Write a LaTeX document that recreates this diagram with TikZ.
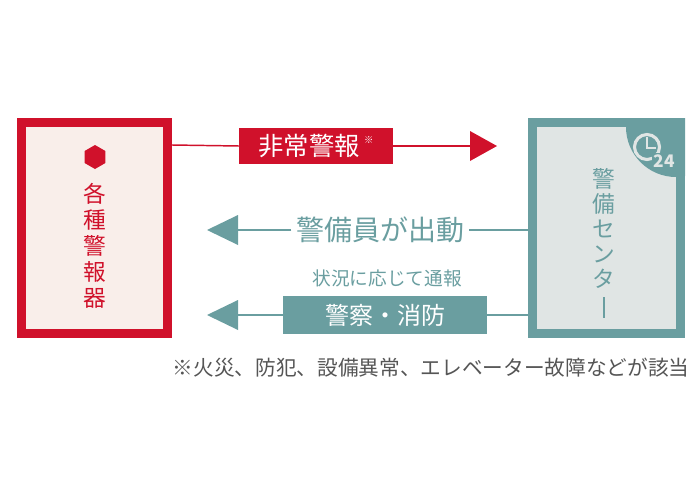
\documentclass[tikz,border=0pt]{standalone}
\usepackage{fontspec}
\setmainfont{Noto Sans CJK JP}
\usetikzlibrary
  {
    positioning, % place nodes relative to other nodes
    calc,
    shapes.geometric,
  }
\definecolor{alarmred}{HTML}{D0112B}
\definecolor{alarmbg}{HTML}{F9EEEA}
\definecolor{guardteal}{HTML}{6A9EA0}
\definecolor{guardbg}{HTML}{E0E5E4}
\definecolor{notegray}{HTML}{555555}
\tikzset{
  px/.style={x=0.75pt,y=-0.75pt},
  head/.style={fill=#1,draw=none},
  tag/.style={fill=#1,text=white,inner sep=0pt,font=\fontsize{18}{18}\selectfont},
}
\begin{document}
\begin{tikzpicture}[px]
  \useasboundingbox (0,0) rectangle (700,500);

  % boxes
  \draw[alarmred,line width=6.75pt,fill=alarmbg] (21.5,122.5) rectangle (167.5,333.5);
  \begin{scope}
    \clip (528,118) rectangle (685,338);
    \fill[guardteal] (528,118) rectangle (685,338);
    \fill[guardbg] (537,127) rectangle (676,329);
    \fill[guardteal] (676,127) circle (50);
  \end{scope}
  \coordinate (alarmR) at (172,145);
  \coordinate (guardL) at (528,230);

  % alarm side text
  \node[regular polygon,regular polygon sides=6,shape border rotate=30,fill=alarmred,minimum size=18pt,inner sep=0pt] (hex) at (95,157) {};
  \foreach \c [count=\i] in {各,種,警,報,器}
    \node[text=alarmred,font=\fontsize{17}{17}\selectfont] (a\i) at (95,168+26*\i) {\c};

  % center side text
  \foreach \c [count=\i] in {警,備,セ,ン,タ}
    \node[text=guardteal,font=\fontsize{17}{17}\selectfont] (g\i) at (604,154+25*\i) {\c};
  \draw[guardteal,line width=1.2pt] (604,297) -- (604,318);

  % clock icon
  \draw[guardbg,line width=2.3pt] (647,147) circle (12.5);
  \draw[guardbg,line width=2pt] (647,137) -- (647,148) -- (656,148);
  \node[text=guardbg,font=\bfseries\fontsize{13}{13}\selectfont,fill=guardteal,inner sep=1pt] (clk) at (664,161) {24};

  % alarm arrow
  \node[tag=alarmred,minimum width=115pt,minimum height=27pt,font=\fontsize{19}{19}\selectfont] (fire) at (316,146) {非常警報\,\raisebox{0.9ex}{\fontsize{7}{7}\selectfont ※}};
  \coordinate (t1) at (497,146);
  \draw[alarmred,line width=1.1pt] (alarmR) -- (fire.west);
  \draw[alarmred,line width=1.1pt] (fire.east) -- (470,146);
  \fill[head=alarmred] (470,131) -- (t1) -- (470,161) -- cycle;

  % dispatch arrow
  \node[text=guardteal,font=\fontsize{21}{21}\selectfont] (go) at (380,230) {警備員が出動};
  \coordinate (t2) at (207,230);
  \draw[guardteal,line width=1.1pt] (guardL) -- (go.east);
  \draw[guardteal,line width=1.1pt] (go.west) -- (238,230);
  \fill[head=guardteal] (238,215) -- (t2) -- (238,245) -- cycle;

  % report arrow
  \node[text=guardteal,font=\fontsize{14}{14}\selectfont] (cond) at (387,278) {状況に応じて通報};
  \node[tag=guardteal,minimum width=153pt,minimum height=28.5pt] (police) at (385,315) {警察・消防};
  \coordinate (t3) at (207,315);
  \draw[guardteal,line width=1.1pt] (528,315) -- (police.east);
  \draw[guardteal,line width=1.1pt] (police.west) -- (238,315);
  \fill[head=guardteal] (238,300) -- (t3) -- (238,330) -- cycle;

  % footnote
  \node[text=notegray,font=\fontsize{15.5}{15.5}\selectfont] (note) at (431,368) {※火災、防犯、設備異常、エレベーター故障などが該当};
\end{tikzpicture}
\end{document}
